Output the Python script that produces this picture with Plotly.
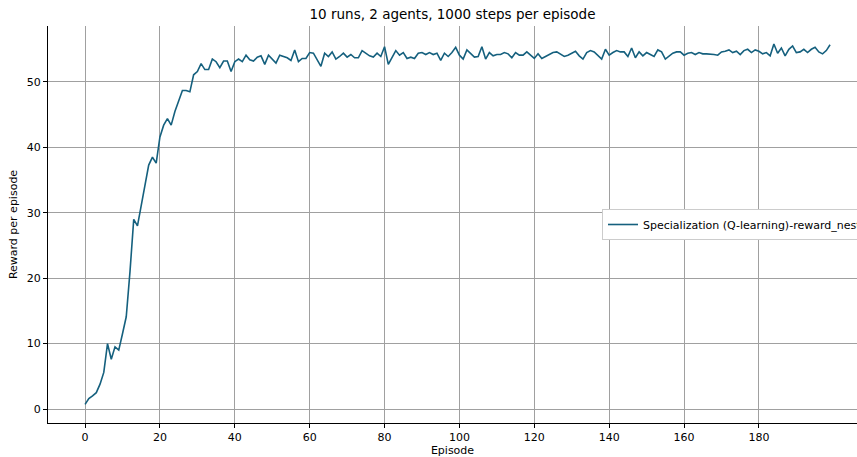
import plotly.graph_objects as go

episodes = list(range(200))
reward = [
    0.7, 1.6, 2.0, 2.5, 3.8, 5.6, 10.0, 7.6, 9.5, 9.0,
    11.5, 14.1, 21.0, 29.0, 28.0, 31.0, 34.3, 37.3, 38.5, 37.6,
    41.6, 43.4, 44.4, 43.4, 45.5, 47.2, 48.7, 48.7, 48.5, 51.1,
    51.6, 52.8, 51.9, 51.9, 53.5, 53.1, 52.2, 53.2, 53.2, 51.6,
    53.1, 53.5, 53.1, 54.1, 53.4, 53.2, 53.8, 54.0, 52.7, 54.1,
    53.5, 52.9, 54.1, 53.9, 53.7, 53.3, 54.9, 53.1, 53.6, 53.6,
    54.5, 54.4, 53.5, 52.4, 54.4, 53.9, 54.6, 53.5, 53.9, 54.4,
    53.8, 54.2, 53.7, 53.7, 54.8, 54.4, 54.0, 53.8, 54.4, 53.9,
    55.4, 52.7, 53.7, 54.8, 54.1, 54.5, 53.6, 53.8, 53.6, 54.4,
    54.5, 54.2, 54.5, 54.2, 54.4, 53.3, 54.4, 53.9, 54.5, 55.3,
    54.1, 53.5, 54.9, 54.4, 53.8, 53.9, 55.4, 53.5, 54.5, 54.0,
    54.2, 54.2, 54.5, 54.3, 53.7, 54.5, 54.1, 54.1, 54.6, 54.1,
    53.6, 54.3, 53.6, 53.9, 54.2, 54.5, 54.6, 54.3, 53.9, 54.1,
    54.4, 54.7, 54.0, 53.5, 54.5, 54.8, 54.6, 54.1, 53.5, 55.0,
    54.1, 54.5, 54.8, 54.6, 54.6, 53.9, 55.2, 53.7, 54.6, 54.0,
    54.5, 54.2, 53.9, 54.9, 54.6, 53.5, 54.0, 54.4, 54.6, 54.6,
    54.1, 54.4, 54.5, 54.2, 54.5, 54.3, 54.3, 54.3, 54.2, 54.1,
    54.6, 54.7, 54.9, 54.5, 54.7, 54.2, 54.8, 55.0, 54.5, 54.9,
    54.7, 54.3, 54.5, 54.0, 55.8, 54.4, 55.2, 54.0, 55.0, 55.5,
    54.5, 54.6, 55.0, 54.5, 55.0, 55.3, 54.6, 54.3, 54.8, 55.7,
]
series_name = "Specialization (Q-learning)-reward_nest"
x_ticks = [0, 20, 40, 60, 80, 100, 120, 140, 160, 180]
y_ticks = [0, 10, 20, 30, 40, 50]
title_text = "10 runs, 2 agents, 1000 steps per episode"

font_family = "DejaVu Sans, sans-serif"

fig = go.Figure()
fig.add_trace(go.Scatter(
    x=episodes, y=reward, mode="lines", name=series_name,
    line=dict(color="#15607e", width=1.6),
))

# figure is slightly wider than the window so the axes/legend run off the right edge
fig.update_layout(
    width=873, height=457,
    margin=dict(l=48, r=16, t=26, b=34, autoexpand=False),
    paper_bgcolor="white", plot_bgcolor="white",
    font=dict(family=font_family, size=11, color="black"),
    title=dict(text=title_text, x=0.5, xanchor="center", xref="paper",
               y=1 - 14 / 457, yref="container", yanchor="middle",
               font=dict(size=13.5, family=font_family)),
    showlegend=True,
    legend=dict(x=602 / 873, xref="container", xanchor="left",
                y=0.5, yanchor="middle",
                bgcolor="white", bordercolor="#cccccc", borderwidth=1,
                font=dict(size=11, family=font_family)),
    xaxis=dict(range=[-9.9, 206.2], tickvals=x_ticks, showgrid=True,
               gridcolor="#a0a0a0", gridwidth=1, zeroline=False,
               showline=True, linecolor="black", linewidth=1,
               ticks="outside", ticklen=4, tickcolor="black",
               title=dict(text="Episode", standoff=4, font=dict(size=11))),
    yaxis=dict(range=[-2.14, 58.56], tickvals=y_ticks, showgrid=True,
               gridcolor="#a0a0a0", gridwidth=1, zeroline=False,
               showline=True, linecolor="black", linewidth=1,
               ticks="outside", ticklen=4, tickcolor="black",
               title=dict(text="Reward per episode", standoff=6, font=dict(size=11))),
)

fig.write_html("out.html",
               config={"displayModeBar": False},
               post_script="document.body.style.margin='0';document.body.style.overflow='hidden';")
